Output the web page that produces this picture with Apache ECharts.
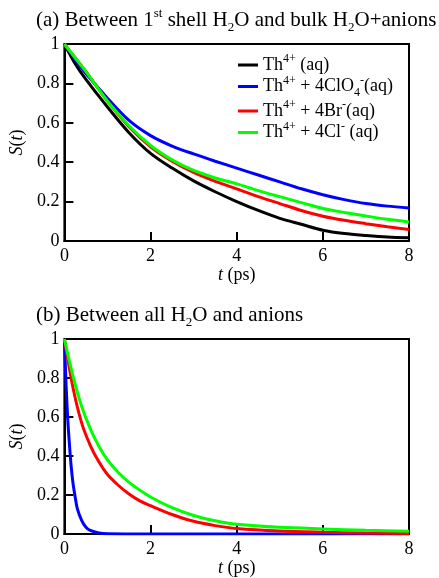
<!DOCTYPE html>
<html><head><meta charset="utf-8">
<script src="https://cdn.jsdelivr.net/npm/echarts@6/dist/echarts.min.js"></script>
<style>html,body{margin:0;padding:0;background:#fff}#c{width:439px;height:578px}</style>
</head><body><div id="c"></div>
<script>
// Panel (a): time points (ps) and S(t)
const tA = [0, 0.25, 0.5, 1, 1.5, 2, 2.5, 3, 3.5, 4, 4.5, 5, 5.5, 6, 6.5, 7, 7.5, 8];
const aTh   = [1, 0.90, 0.82, 0.68, 0.55, 0.445, 0.37, 0.305, 0.25, 0.20, 0.155, 0.115, 0.085, 0.055, 0.038, 0.028, 0.02, 0.016];
const aClO4 = [1, 0.92, 0.85, 0.725, 0.612, 0.535, 0.482, 0.442, 0.405, 0.37, 0.335, 0.30, 0.265, 0.235, 0.21, 0.19, 0.177, 0.168];
const aBr   = [1, 0.93, 0.86, 0.71, 0.58, 0.478, 0.405, 0.348, 0.303, 0.265, 0.225, 0.19, 0.155, 0.126, 0.105, 0.088, 0.072, 0.058];
const aCl   = [1, 0.93, 0.86, 0.71, 0.585, 0.485, 0.412, 0.358, 0.32, 0.29, 0.256, 0.225, 0.195, 0.165, 0.145, 0.127, 0.11, 0.097];

// Panel (b)
const tB1 = [0, 0.04, 0.08, 0.12, 0.16, 0.2, 0.25, 0.3, 0.4, 0.5, 0.6, 0.8, 1.0, 2, 4, 6, 8];
const bClO4 = [1, 0.76, 0.58, 0.45, 0.34, 0.26, 0.19, 0.13, 0.07, 0.035, 0.018, 0.005, 0.001, 0, 0, 0, 0];
const tB2 = [0, 0.2, 0.4, 0.6, 0.8, 1.0, 1.25, 1.5, 1.75, 2, 2.5, 3, 3.5, 4, 5, 6, 7, 8];
const bBr = [1, 0.75, 0.57, 0.455, 0.37, 0.305, 0.25, 0.205, 0.17, 0.145, 0.10, 0.065, 0.043, 0.028, 0.015, 0.009, 0.005, 0.003];
const bCl = [1, 0.81, 0.655, 0.54, 0.45, 0.38, 0.315, 0.265, 0.225, 0.19, 0.135, 0.095, 0.068, 0.05, 0.034, 0.026, 0.019, 0.014];

const names = ['Th4+ (aq)', 'Th4+ + 4ClO4- (aq)', 'Th4+ + 4Br- (aq)', 'Th4+ + 4Cl- (aq)'];
const colors = ['#000000', '#0000ff', '#ff0000', '#00ff00'];
const legendRich = {
  'Th4+ (aq)': '{n|Th}{sup|4+}{n| (aq)}',
  'Th4+ + 4ClO4- (aq)': '{n|Th}{sup|4+}{n| + 4ClO}{sub|4}{sup|-}{n|(aq)}',
  'Th4+ + 4Br- (aq)': '{n|Th}{sup|4+}{n| + 4Br}{sup|-}{n|(aq)}',
  'Th4+ + 4Cl- (aq)': '{n|Th}{sup|4+}{n| + 4Cl}{sup|-}{n| (aq)}'
};

const FF = '"Liberation Serif", "DejaVu Serif", serif';
function zip(t, v) { return t.map((x, i) => [x, v[i]]); }
function richStyles(fs) {
  const s = Math.round(fs * 0.64);
  return {
    n: {fontSize: fs, fontFamily: FF, color: '#000', fontWeight: 'normal', lineHeight: fs + 6},
    i: {fontSize: fs, fontFamily: FF, color: '#000', fontWeight: 'normal', fontStyle: 'italic', lineHeight: fs + 6},
    sup: {fontSize: s, fontFamily: FF, color: '#000', fontWeight: 'normal', verticalAlign: 'top', lineHeight: s},
    sub: {fontSize: s, fontFamily: FF, color: '#000', fontWeight: 'normal', verticalAlign: 'bottom', lineHeight: s}
  };
}

const axisCommon = {
  axisLine: {show: true, onZero: false, lineStyle: {color: '#000', width: 2}},
  axisTick: {show: true, inside: true, length: 9, lineStyle: {color: '#000', width: 2}},
  splitLine: {show: false},
  axisLabel: {color: '#000', fontSize: 18, fontFamily: FF}
};
function xAxis(gi) {
  return Object.assign({}, axisCommon, {
    type: 'value', gridIndex: gi, min: 0, max: 8, interval: 2,
    axisLabel: Object.assign({}, axisCommon.axisLabel, {margin: 6}),
    name: '{i|t}{n| (ps)}', nameLocation: 'middle', nameGap: 22,
    nameTextStyle: {rich: richStyles(18)}
  });
}
function yAxis(gi) {
  return Object.assign({}, axisCommon, {
    type: 'value', gridIndex: gi, min: 0, max: 1, interval: 0.2,
    axisLabel: Object.assign({}, axisCommon.axisLabel, {margin: 5}),
    name: '{i|S}{n|(}{i|t}{n|)}', nameLocation: 'middle', nameGap: 33,
    nameTextStyle: {rich: richStyles(18)}
  });
}
function line(name, data, gi, color) {
  return {
    type: 'line', name: name, xAxisIndex: gi, yAxisIndex: gi, data: data,
    showSymbol: false, smooth: 0.3,
    lineStyle: {color: color, width: 3}, itemStyle: {color: color}, animation: false
  };
}

const chart = echarts.init(document.getElementById('c'));
chart.setOption({
  animation: false,
  title: [
    {text: '{n|(a) Between 1}{sup|st}{n| shell H}{sub|2}{n|O and bulk H}{sub|2}{n|O+anions}',
     left: 36, top: 7, padding: 0, textStyle: {fontWeight: 'normal', rich: richStyles(21)}},
    {text: '{n|(b) Between all H}{sub|2}{n|O and anions}',
     left: 36, top: 302, padding: 0, textStyle: {fontWeight: 'normal', rich: richStyles(21)}}
  ],
  legend: {
    data: names, orient: 'vertical', left: 238, top: 53, itemGap: 0.5, padding: 0,
    icon: 'rect', itemWidth: 20, itemHeight: 3,
    formatter: function (n) { return legendRich[n]; },
    textStyle: {rich: richStyles(18)},
    selectedMode: false
  },
  grid: [
    {left: 63, top: 44, width: 346, height: 197, show: true, borderColor: '#000', borderWidth: 2, containLabel: false},
    {left: 63, top: 339, width: 346, height: 197, show: true, borderColor: '#000', borderWidth: 2, containLabel: false}
  ],
  xAxis: [xAxis(0), xAxis(1)],
  yAxis: [yAxis(0), yAxis(1)],
  series: [
    line(names[0], zip(tA, aTh), 0, colors[0]),
    line(names[1], zip(tA, aClO4), 0, colors[1]),
    line(names[2], zip(tA, aBr), 0, colors[2]),
    line(names[3], zip(tA, aCl), 0, colors[3]),
    line(names[1], zip(tB1, bClO4), 1, colors[1]),
    line(names[2], zip(tB2, bBr), 1, colors[2]),
    line(names[3], zip(tB2, bCl), 1, colors[3])
  ]
});
</script></body></html>
